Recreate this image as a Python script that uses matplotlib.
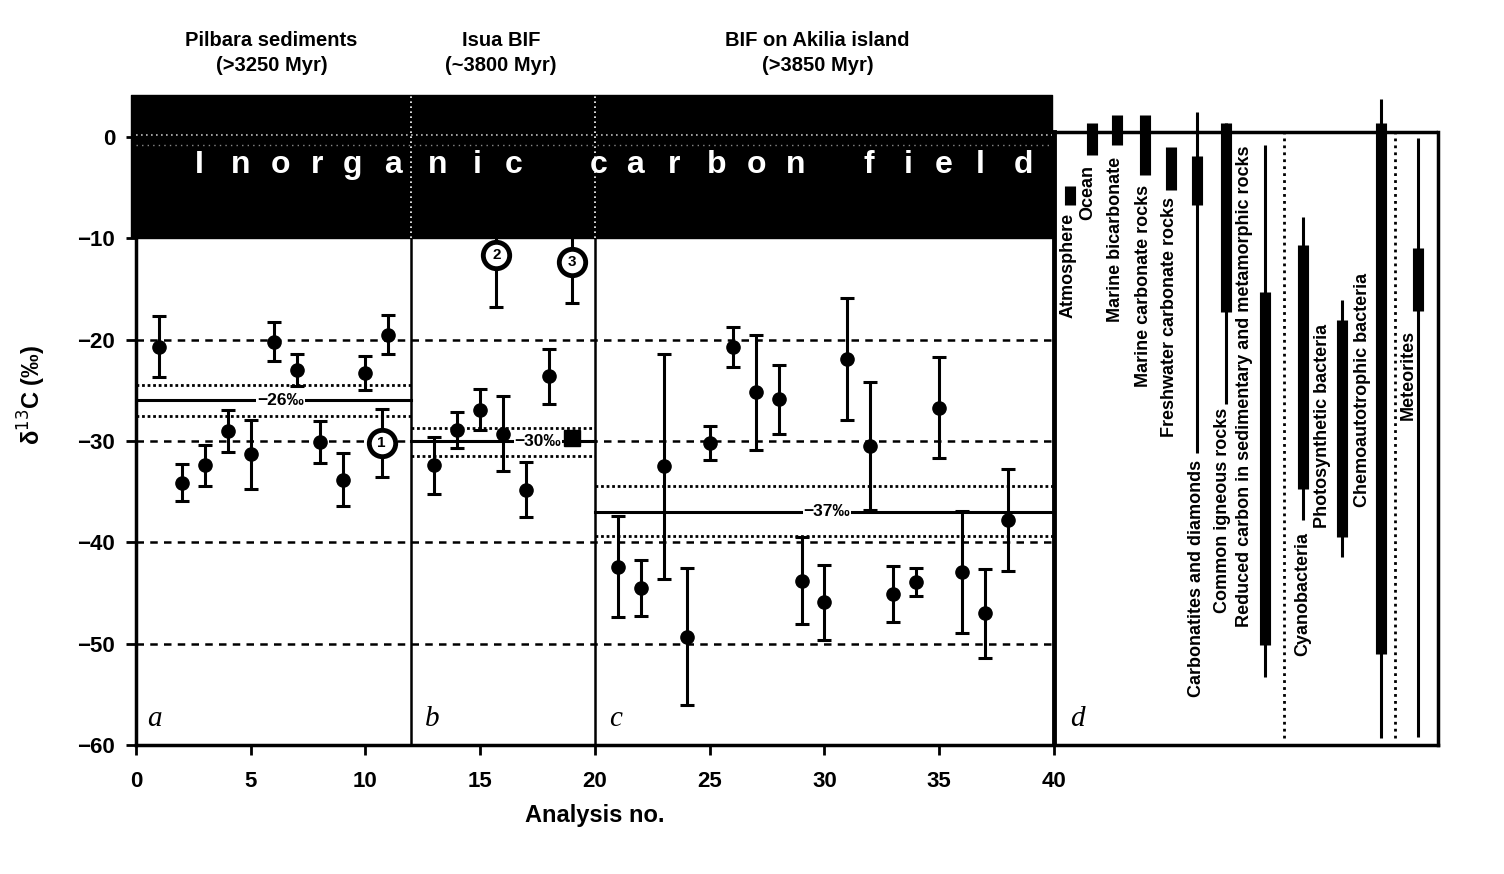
import numpy as np
import matplotlib
matplotlib.use('Agg')
from matplotlib import pyplot as plt

plt.rcParams['font.family'] = ['Liberation Sans', 'DejaVu Sans']

## panel a : Pilbara sediments
a_x = [1, 2, 3, 4, 5, 6, 7, 8, 9, 10, 11]
a_y = [-20.7, -34.1, -32.4, -29.0, -31.3, -20.2, -23.0, -30.1, -33.8, -23.3, -19.5]
a_err = [3.0, 1.8, 2.0, 2.1, 3.4, 1.9, 1.6, 2.1, 2.6, 1.7, 1.9]

## panel b : Isua BIF
b_x = [13, 14, 15, 16, 17, 18]
b_y = [-32.4, -28.9, -26.9, -29.3, -34.8, -23.6]
b_err = [2.8, 1.8, 2.0, 3.7, 2.7, 2.7]

## panel c : BIF on Akilia island
c_x = [21, 22, 23, 24, 25, 26, 27, 28, 29, 30, 31, 32, 33, 34, 35, 36, 37, 38]
c_y = [-42.4, -44.5, -32.5, -49.3, -30.2, -20.7, -25.2, -25.9, -43.8,
       -45.9, -21.9, -30.5, -45.1, -43.9, -26.7, -42.9, -47.0, -37.8]
c_err = [5.0, 2.8, 11.1, 6.8, 1.7, 2.0, 5.7, 3.4, 4.3,
         3.7, 6.0, 6.3, 2.8, 1.4, 5.0, 6.0, 4.4, 5.0]

## circled (excluded) analyses
circ_labels = ['1', '2', '3']
circ_x = [10.7, 15.7, 19.0]
circ_y = [-30.2, -11.6, -12.3]
circ_err = [3.4, 5.2, 4.1]

## single square marker in panel b
sq_x = [19.0]
sq_y = [-29.7]

## mean values (solid) and their bands (dotted) per panel
mean_span = [(0, 12), (12, 20), (20, 40)]
mean_val = [-26, -30, -37]
mean_lo = [-27.5, -31.5, -39.4]
mean_hi = [-24.5, -28.7, -34.4]
mean_text = ['\u221226\u2030', '\u221230\u2030', '\u221237\u2030']
mean_text_x = [6.3, 17.5, 30.1]

## panel titles
titles = ['Pilbara sediments\n(>3250 Myr)', 'Isua BIF\n(~3800 Myr)',
          'BIF on Akilia island\n(>3850 Myr)']
title_x = [5.9, 15.9, 29.7]

## panel d : reference ranges
d_names = ['Atmosphere', 'Ocean', 'Marine bicarbonate', 'Marine carbonate rocks',
           'Freshwater carbonate rocks', 'Carbonatites and diamonds',
           'Common igneous rocks', 'Reduced carbon in sedimentary and metamorphic rocks',
           'Cyanobacteria', 'Photosynthetic bacteria', 'Chemoautotrophic bacteria',
           'Meteorites']
d_x = [40.7, 41.64, 42.73, 43.97, 45.08, 46.23, 47.49, 49.19, 50.85, 52.57, 54.25, 55.86]
d_thin = [None, None, None, None, None, (-31.2, 2.5), (-26.3, 1.4), (-53.3, -0.8),
          (-37.8, -7.9), (-41.4, -16.1), (-59.3, 3.8), (-59.2, -0.1)]
d_thick = [(-6.7, -4.8), (-1.8, 1.4), (-0.8, 2.2), (-3.7, 2.2), (-5.2, -1.0),
           (-6.7, -1.9), (-17.3, 1.4), (-50.1, -15.3), (-34.7, -10.7),
           (-39.5, -18.1), (-51.0, 1.4), (-17.2, -11.0)]
d_label_x = [40.6, 41.48, 42.66, 43.88, 45.05, 46.23, 47.36, 48.32, 50.85, 51.72, 53.46, 55.42]
d_label_top = [-7.5, -2.8, -2.0, -4.7, -5.9, -31.9, -26.7, -0.8, -39.0, -18.4, -13.4, -19.0]
d_dotted_x = [50.02, 54.86]

## spaced white letters of the band label
field_letters = list('Inorganiccarbonfield')
field_letter_x = [2.74, 4.58, 6.30, 7.89, 9.45, 11.19, 13.16, 14.88, 16.47,
                  20.16, 21.74, 23.46, 25.32, 27.02, 28.76,
                  31.91, 33.64, 35.21, 36.80, 38.65]

fig = plt.figure(figsize=(15.04, 8.74), dpi=100)
ax = fig.add_axes([0.0904, 0.1476, 0.866, 0.7536])
ax.set_xlim(0, 56.75)
ax.set_ylim(-60, 5)

# inorganic carbon band
ax.fill_between([-0.2, 39.9], -10, 4.1, color='black', zorder=5, clip_on=False)
for xv in [12, 20]:
    ax.plot([xv, xv], [-10, 4.1], color='white', lw=1.2, ls=(0, (1, 2)), zorder=6)
ax.plot([0, 39.9], [0.2, 0.2], color='#bbbbbb', lw=1.2, ls=(0, (1, 2)), zorder=6)
ax.plot([0, 39.9], [-0.8, -0.8], color='#888888', lw=1.0, ls=(0, (1, 3)), zorder=6)

for ch, xv in zip(field_letters, field_letter_x):
    ax.text(xv, -2.8, ch, color='white', fontsize=23, fontweight='bold',
            ha='center', va='center', zorder=7)

# dashed reference lines
for yv in [-20, -30, -40, -50]:
    ax.plot([0, 40], [yv, yv], color='black', lw=1.8, ls=(0, (3, 2.5)), zorder=1)

# panel dividers
for xv in [12, 20]:
    ax.plot([xv, xv], [-60, -10], color='black', lw=1.8, zorder=2)
ax.plot([40, 40], [-60, 0.5], color='black', lw=3.5, zorder=2)

# means
for i in range(3):
    x0, x1 = mean_span[i]
    ax.plot([x0, x1], [mean_val[i]] * 2, color='black', lw=2.2, zorder=2)
    ax.plot([x0, x1], [mean_lo[i]] * 2, color='black', lw=2, ls=(0, (1, 1)), zorder=2)
    ax.plot([x0, x1], [mean_hi[i]] * 2, color='black', lw=2, ls=(0, (1, 1)), zorder=2)
    ax.text(mean_text_x[i], mean_val[i], mean_text[i], fontsize=12.5, fontweight='bold',
            ha='center', va='center', zorder=3,
            bbox=dict(facecolor='white', edgecolor='none', pad=0.5))

# data points
for xs, ys, es in [(a_x, a_y, a_err), (b_x, b_y, b_err), (c_x, c_y, c_err)]:
    ax.errorbar(xs, ys, yerr=es, fmt='o', color='black', ms=9.5, elinewidth=2.2,
                capsize=5, capthick=2.2, zorder=4)

ax.errorbar(circ_x, circ_y, yerr=circ_err, fmt='none', ecolor='black', elinewidth=2.2,
            capsize=5, capthick=2.2, zorder=4)
ax.plot(circ_x, circ_y, 'o', ms=19, mfc='white', mec='black', mew=3.5, ls='none', zorder=8)
for i in range(len(circ_x)):
    ax.text(circ_x[i], circ_y[i], circ_labels[i], fontsize=11, fontweight='bold',
            ha='center', va='center', zorder=9)
ax.plot(sq_x, sq_y, 's', color='black', ms=11, zorder=4)

# panel titles
for i in range(3):
    ax.text(title_x[i], 8.3, titles[i], fontsize=14.5, fontweight='bold', ha='center',
            va='center', linespacing=1.35, clip_on=False)

# panel letters
for lx, lt in [(0.5, 'a'), (12.6, 'b'), (20.6, 'c'), (40.7, 'd')]:
    ax.text(lx, -57.4, lt, fontsize=21, fontstyle='italic', family='Liberation Serif',
            ha='left', va='center')

# panel d
ax.plot([40, 56.75], [0.5, 0.5], color='black', lw=2.5, zorder=2)
for xv in d_dotted_x:
    ax.plot([xv, xv], [-59.3, 0.5], color='black', lw=2, ls=(0, (1, 1.5)), zorder=2)
for i in range(len(d_names)):
    if d_thin[i] is not None:
        ax.plot([d_x[i], d_x[i]], d_thin[i], color='black', lw=2.2, zorder=3,
                solid_capstyle='butt')
    ax.plot([d_x[i], d_x[i]], d_thick[i], color='black', lw=8, zorder=3,
            solid_capstyle='butt')
    ax.text(d_label_x[i], d_label_top[i], d_names[i], rotation=90, fontsize=13,
            fontweight='bold', ha='center', va='top', zorder=4)

# axes styling
ax.spines['top'].set_visible(False)
ax.spines['left'].set_bounds(-60, 0)
ax.spines['right'].set_bounds(-60, 0.5)
for side in ['left', 'bottom', 'right']:
    ax.spines[side].set_linewidth(2.5)

ax.set_xticks([0, 5, 10, 15, 20, 25, 30, 35, 40])
ax.set_yticks([0, -10, -20, -30, -40, -50, -60])
ax.set_yticklabels(['0', '\u221210', '\u221220', '\u221230', '\u221240', '\u221250', '\u221260'])
ax.tick_params(direction='out', length=7, width=2, labelsize=16)
for lab in ax.get_xticklabels() + ax.get_yticklabels():
    lab.set_fontweight('bold')
ax.tick_params(axis='x', pad=12)
ax.tick_params(axis='y', pad=8)

ax.set_xlabel('Analysis no.', fontsize=17, fontweight='bold')
ax.xaxis.set_label_coords(20 / 56.75, -0.09)
ax.set_ylabel('\u03b4$^{13}$C (\u2030)', fontsize=17, fontweight='bold')
ax.yaxis.set_label_coords(-0.0675, 0.531)

fig.savefig('out.png', dpi=100)
